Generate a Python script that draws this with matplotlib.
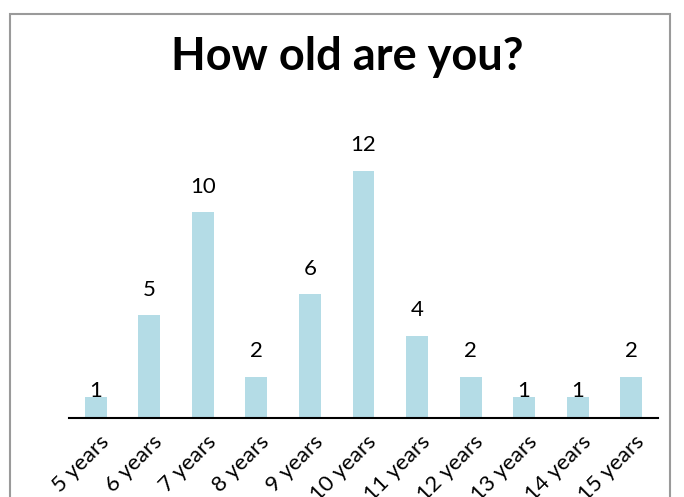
import matplotlib.pyplot as plt
import matplotlib.transforms as mtransforms
from matplotlib.patches import Rectangle

ages = ["5 years", "6 years", "7 years", "8 years", "9 years", "10 years",
        "11 years", "12 years", "13 years", "14 years", "15 years"]
counts = [1, 5, 10, 2, 6, 12, 4, 2, 1, 1, 2]

plt.rcParams['font.family'] = ['Lato', 'DejaVu Sans']

fig = plt.figure(figsize=(6.84, 4.97), dpi=100)
ax = fig.add_axes([0.1009, 0.159, 0.861, 0.58])

x = range(len(ages))
ax.bar(x, counts, width=0.41, color="#b4dce6")
for xi, c in zip(x, counts):
    # the single-count labels sit right on the bar top in the original
    off = 0 if c == 1 else 14
    ax.annotate(str(c), (xi, c), xytext=(0, off), textcoords="offset points",
                ha="center", va="baseline", fontsize=16)

ax.set_xlim(-0.5, len(ages) - 0.5)
ax.set_ylim(0, 14)
ax.set_yticks([])
for s in ["top", "right", "left"]:
    ax.spines[s].set_visible(False)
ax.spines["bottom"].set_linewidth(1.5)
ax.set_xticks(list(x))
ax.set_xticklabels(ages, rotation=45, ha="right", va="top",
                   rotation_mode="anchor", fontsize=16)
ax.tick_params(axis="x", length=0, pad=10)
shift = mtransforms.ScaledTranslation(3 / 100, 0, fig.dpi_scale_trans)
for lab in ax.get_xticklabels():
    lab.set_transform(lab.get_transform() + shift)

fig.text(0.508, 1 - 70 / 497, "How old are you?", ha="center", va="baseline",
         fontsize=32.5, fontweight="bold")

fig.patches.append(Rectangle((10 / 684, -0.1), 660 / 684, 1.1 - 14 / 497,
                             transform=fig.transFigure, fill=False,
                             edgecolor="#9a9a9a", linewidth=1.5))

fig.savefig("out.png", dpi=100)
